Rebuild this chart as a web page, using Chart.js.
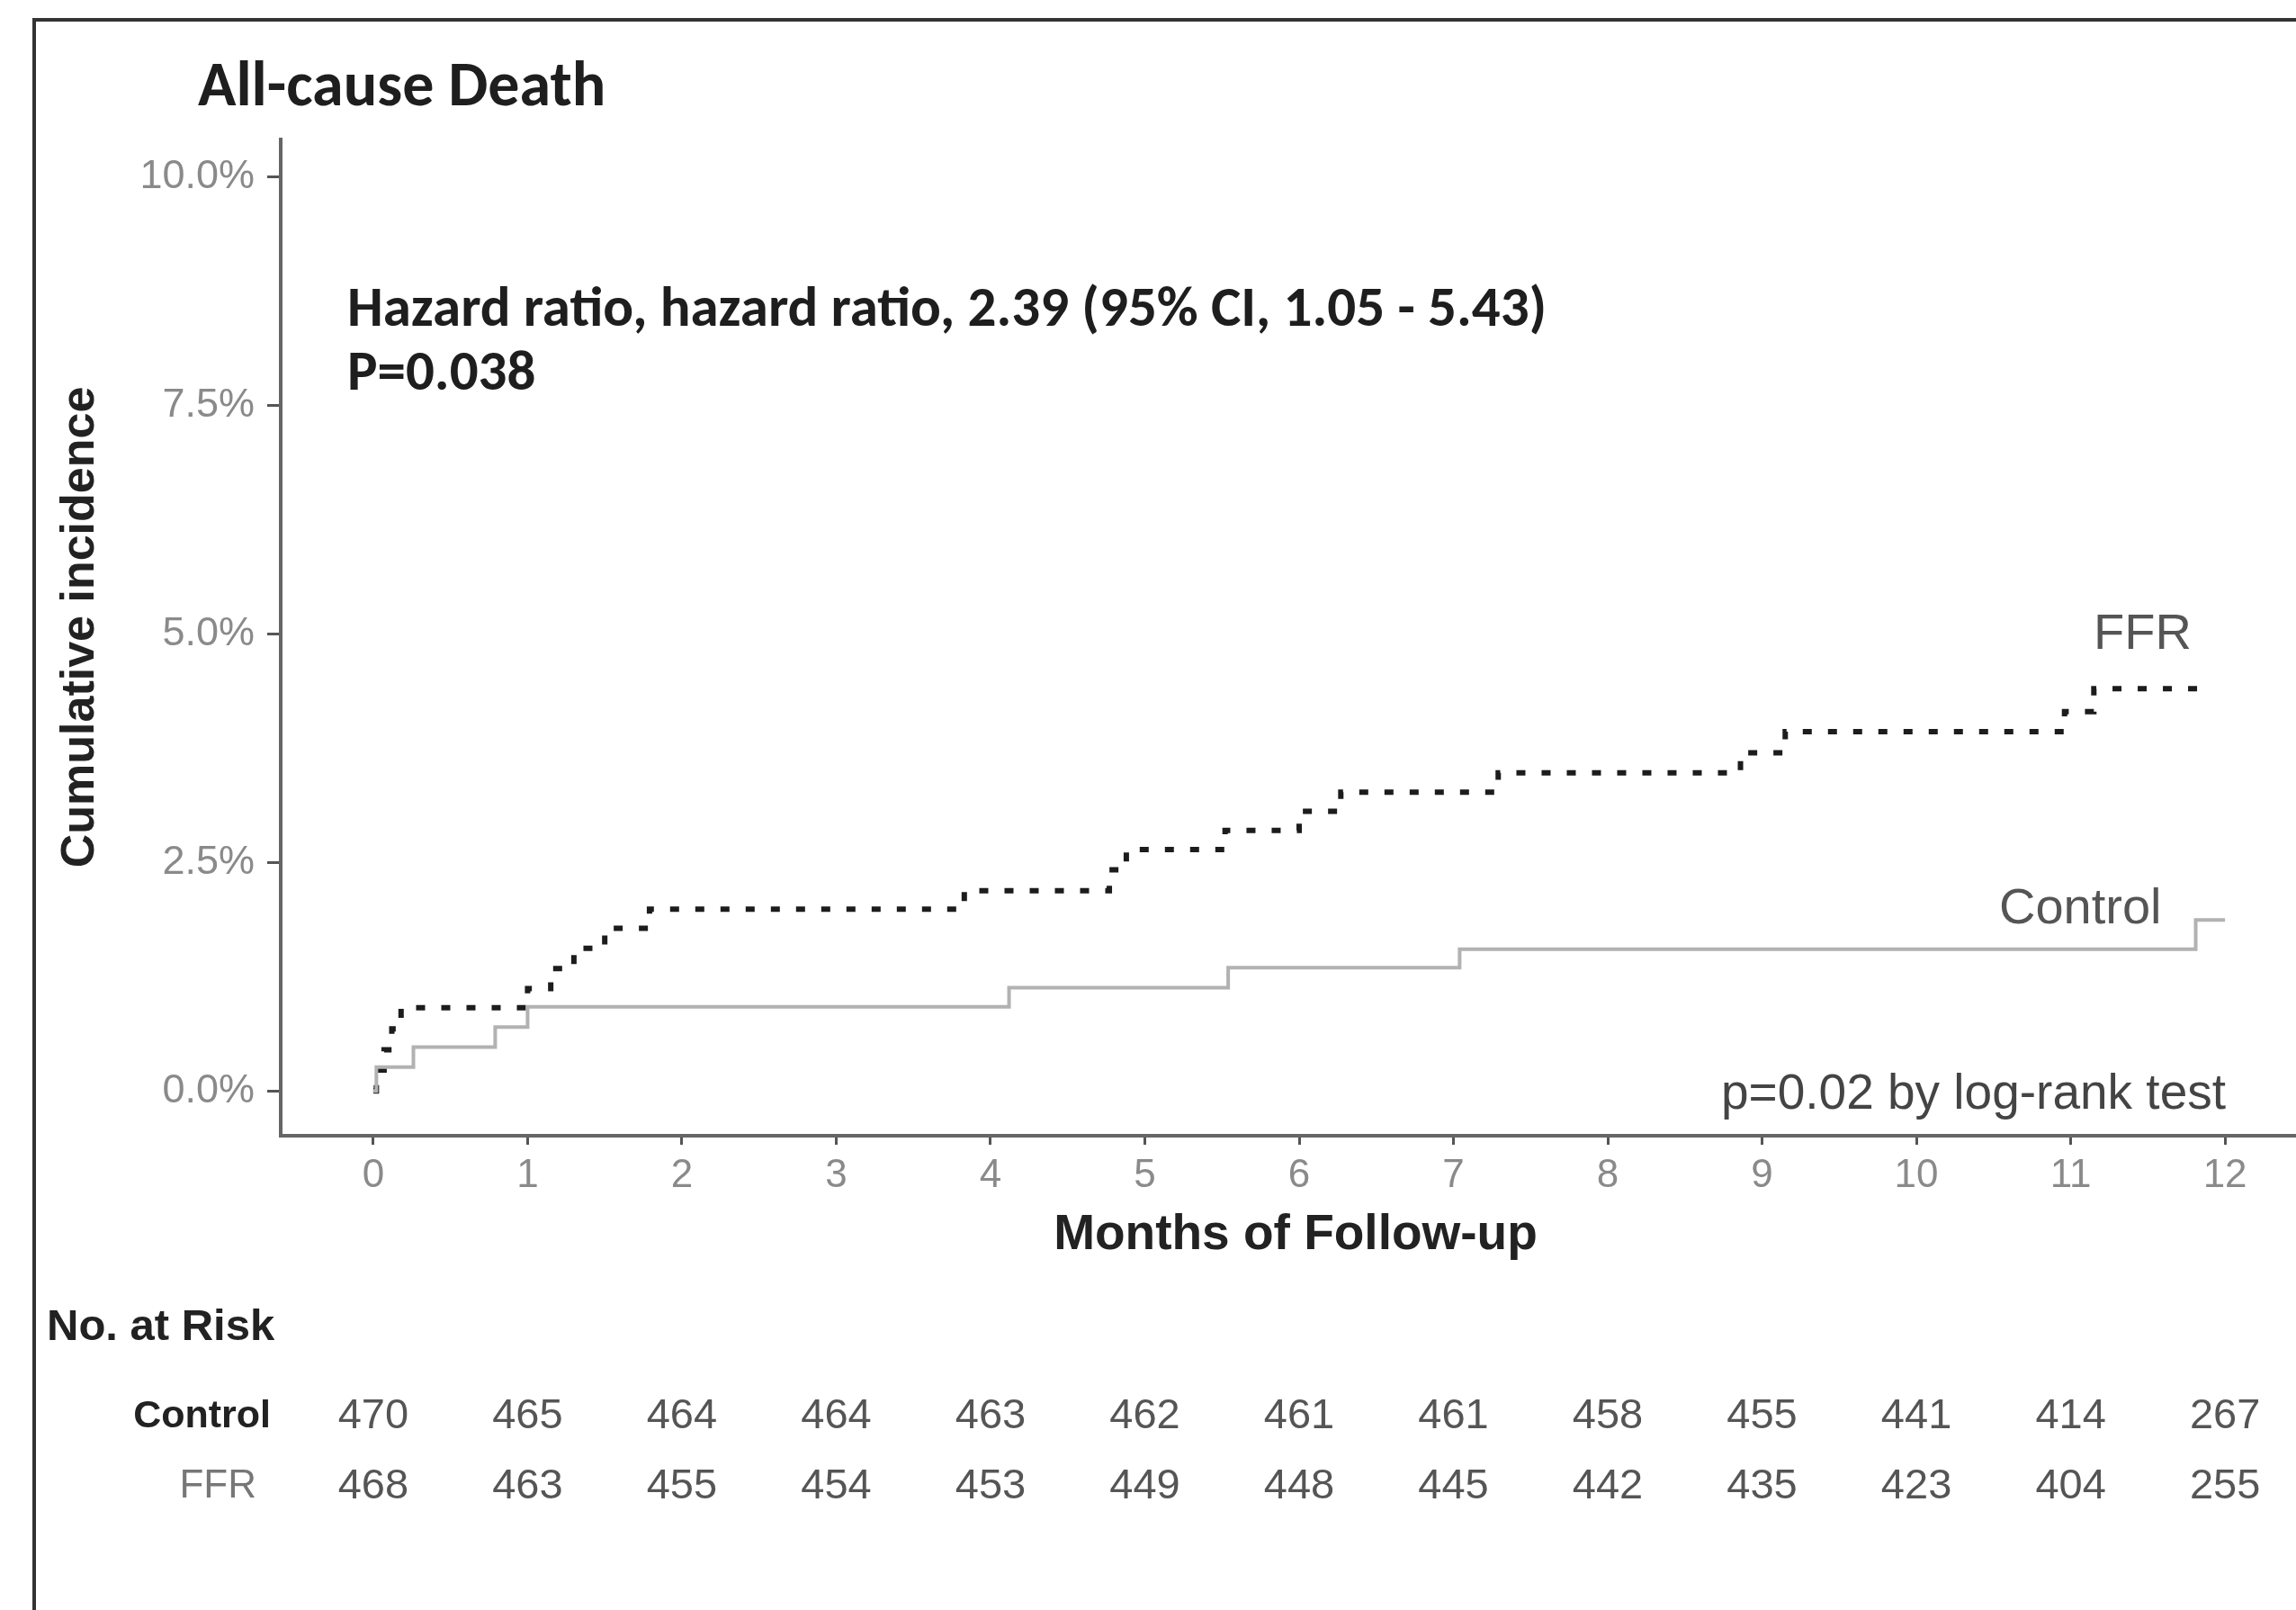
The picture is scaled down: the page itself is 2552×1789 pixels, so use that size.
<!DOCTYPE html>
<html>
<head>
<meta charset="utf-8">
<script src="https://cdn.jsdelivr.net/npm/chart.js@4"></script>
<style>
  html, body { margin: 0; padding: 0; background: #fff; }
  canvas { display: block; }
</style>
</head>
<body>
<canvas id="km" width="2552" height="1789"></canvas>
<script>
// months on the x axis and the y tick values (%)
const months = [0, 1, 2, 3, 4, 5, 6, 7, 8, 9, 10, 11, 12];
const yTicks = [0, 2.5, 5, 7.5, 10];

// FFR group: event times (months) and cumulative incidence (%)
const ffrTimes = [0, 0.02, 0.07, 0.12, 0.18, 1.0, 1.15, 1.3, 1.5, 1.79, 3.83, 4.77, 4.88, 5.52, 6.0, 6.27, 7.29, 8.86, 9.15, 10.96, 11.15, 11.87];
const ffrCum = [0, 0.23, 0.45, 0.68, 0.91, 1.12, 1.34, 1.56, 1.78, 1.99, 2.19, 2.42, 2.64, 2.85, 3.06, 3.27, 3.48, 3.70, 3.93, 4.15, 4.40, 4.40];

// Control group
const ctrlTimes = [0, 0.02, 0.26, 0.79, 1.0, 4.12, 5.54, 7.04, 11.81, 12.0];
const ctrlCum = [0, 0.26, 0.48, 0.70, 0.92, 1.13, 1.35, 1.55, 1.87, 1.87];

// numbers at risk
const atRiskControl = [470, 465, 464, 464, 463, 462, 461, 461, 458, 455, 441, 414, 267];
const atRiskFFR = [468, 463, 455, 454, 453, 449, 448, 445, 442, 435, 423, 404, 255];

const SANS = '"Liberation Sans", Arial, sans-serif';
const CAL = 'Carlito, Lato, "Open Sans", sans-serif';

function pts(xs, ys) {
  return xs.map((x, i) => ({ x: x, y: ys[i] }));
}

// texts, frame and risk table
const extras = {
  id: 'extras',
  afterDraw(chart) {
    const ctx = chart.ctx;
    const xs = chart.scales.x;
    ctx.save();

    // outer frame (cut off right / bottom like the picture)
    ctx.strokeStyle = '#333';
    ctx.lineWidth = 4;
    ctx.strokeRect(38, 22, 3000, 3000);

    ctx.textBaseline = 'alphabetic';
    ctx.textAlign = 'left';
    ctx.fillStyle = '#1e1e1e';
    ctx.font = 'bold 70px ' + CAL;
    ctx.fillText('All-cause Death', 220, 117);

    ctx.font = 'bold 63px ' + CAL;
    ctx.fillText('Hazard ratio, hazard ratio, 2.39 (95% CI, 1.05 - 5.43)', 386, 362);
    ctx.fillText('P=0.038', 386, 433);

    // axis titles
    ctx.textBaseline = 'middle';
    ctx.textAlign = 'center';
    ctx.fillStyle = '#222';
    ctx.font = 'bold 55px ' + SANS;
    ctx.fillText('Months of Follow-up', 1440, 1373);
    ctx.save();
    ctx.translate(90, 697);
    ctx.rotate(-Math.PI / 2);
    ctx.font = 'bold 52px ' + SANS;
    ctx.fillText('Cumulative incidence', 0, 0);
    ctx.restore();

    // curve labels
    ctx.fillStyle = '#555';
    ctx.font = '56px ' + SANS;
    ctx.textAlign = 'left';
    ctx.fillText('FFR', 2327, 706);
    ctx.fillText('Control', 2222, 1011);
    ctx.textAlign = 'right';
    ctx.fillStyle = '#444';
    ctx.font = '55px ' + SANS;
    ctx.fillText('p=0.02 by log-rank test', 2474, 1217);

    // risk table
    ctx.textAlign = 'left';
    ctx.fillStyle = '#222';
    ctx.font = 'bold 49px ' + SANS;
    ctx.fillText('No. at Risk', 52, 1475);

    ctx.textAlign = 'right';
    ctx.font = 'bold 43px ' + SANS;
    ctx.fillStyle = '#222';
    ctx.fillText('Control', 301, 1574);
    ctx.font = '44px ' + SANS;
    ctx.fillStyle = '#777';
    ctx.fillText('FFR', 285, 1652);

    ctx.textAlign = 'center';
    ctx.font = '47px ' + SANS;
    ctx.fillStyle = '#555';
    months.forEach((m, i) => {
      const px = xs.getPixelForValue(m);
      ctx.fillText(String(atRiskControl[i]), px, 1574);
      ctx.fillText(String(atRiskFFR[i]), px, 1652);
    });
    ctx.restore();
  }
};

new Chart(document.getElementById('km'), {
  type: 'line',
  data: {
    datasets: [
      {
        label: 'Control',
        data: pts(ctrlTimes, ctrlCum),
        borderColor: '#b2b2b2',
        borderWidth: 4,
        stepped: 'before',
        pointRadius: 0,
        fill: false
      },
      {
        label: 'FFR',
        data: pts(ffrTimes, ffrCum),
        borderColor: '#1c1c1c',
        borderWidth: 6,
        borderDash: [10, 18],
        stepped: 'before',
        pointRadius: 0,
        fill: false
      }
    ]
  },
  options: {
    responsive: false,
    devicePixelRatio: 1,
    animation: false,
    layout: { padding: { top: 155, left: 0, right: 0, bottom: 427 } },
    plugins: { legend: { display: false }, tooltip: { enabled: false } },
    scales: {
      x: {
        type: 'linear',
        min: -0.6,
        max: 12.46,
        afterBuildTicks: (s) => { s.ticks = months.map(v => ({ value: v })); },
        afterFit: (s) => { s.height = 100; },
        border: { display: true, color: '#666', width: 4 },
        grid: { drawOnChartArea: false, drawTicks: true, tickLength: 10, tickColor: '#555', tickWidth: 3 },
        ticks: { color: '#8a8a8a', font: { family: SANS, size: 44 }, padding: 8, maxRotation: 0 }
      },
      y: {
        type: 'linear',
        min: -0.49,
        max: 10.41,
        afterBuildTicks: (s) => { s.ticks = yTicks.map(v => ({ value: v })); },
        afterFit: (s) => { s.width = 312; },
        border: { display: true, color: '#666', width: 4 },
        grid: { drawOnChartArea: false, drawTicks: true, tickLength: 15, tickColor: '#555', tickWidth: 3 },
        ticks: {
          color: '#8a8a8a',
          font: { family: SANS, size: 45 },
          padding: 14,
          callback: (v) => v.toFixed(1) + '%'
        }
      }
    }
  },
  plugins: [extras]
});
</script>
</body>
</html>
